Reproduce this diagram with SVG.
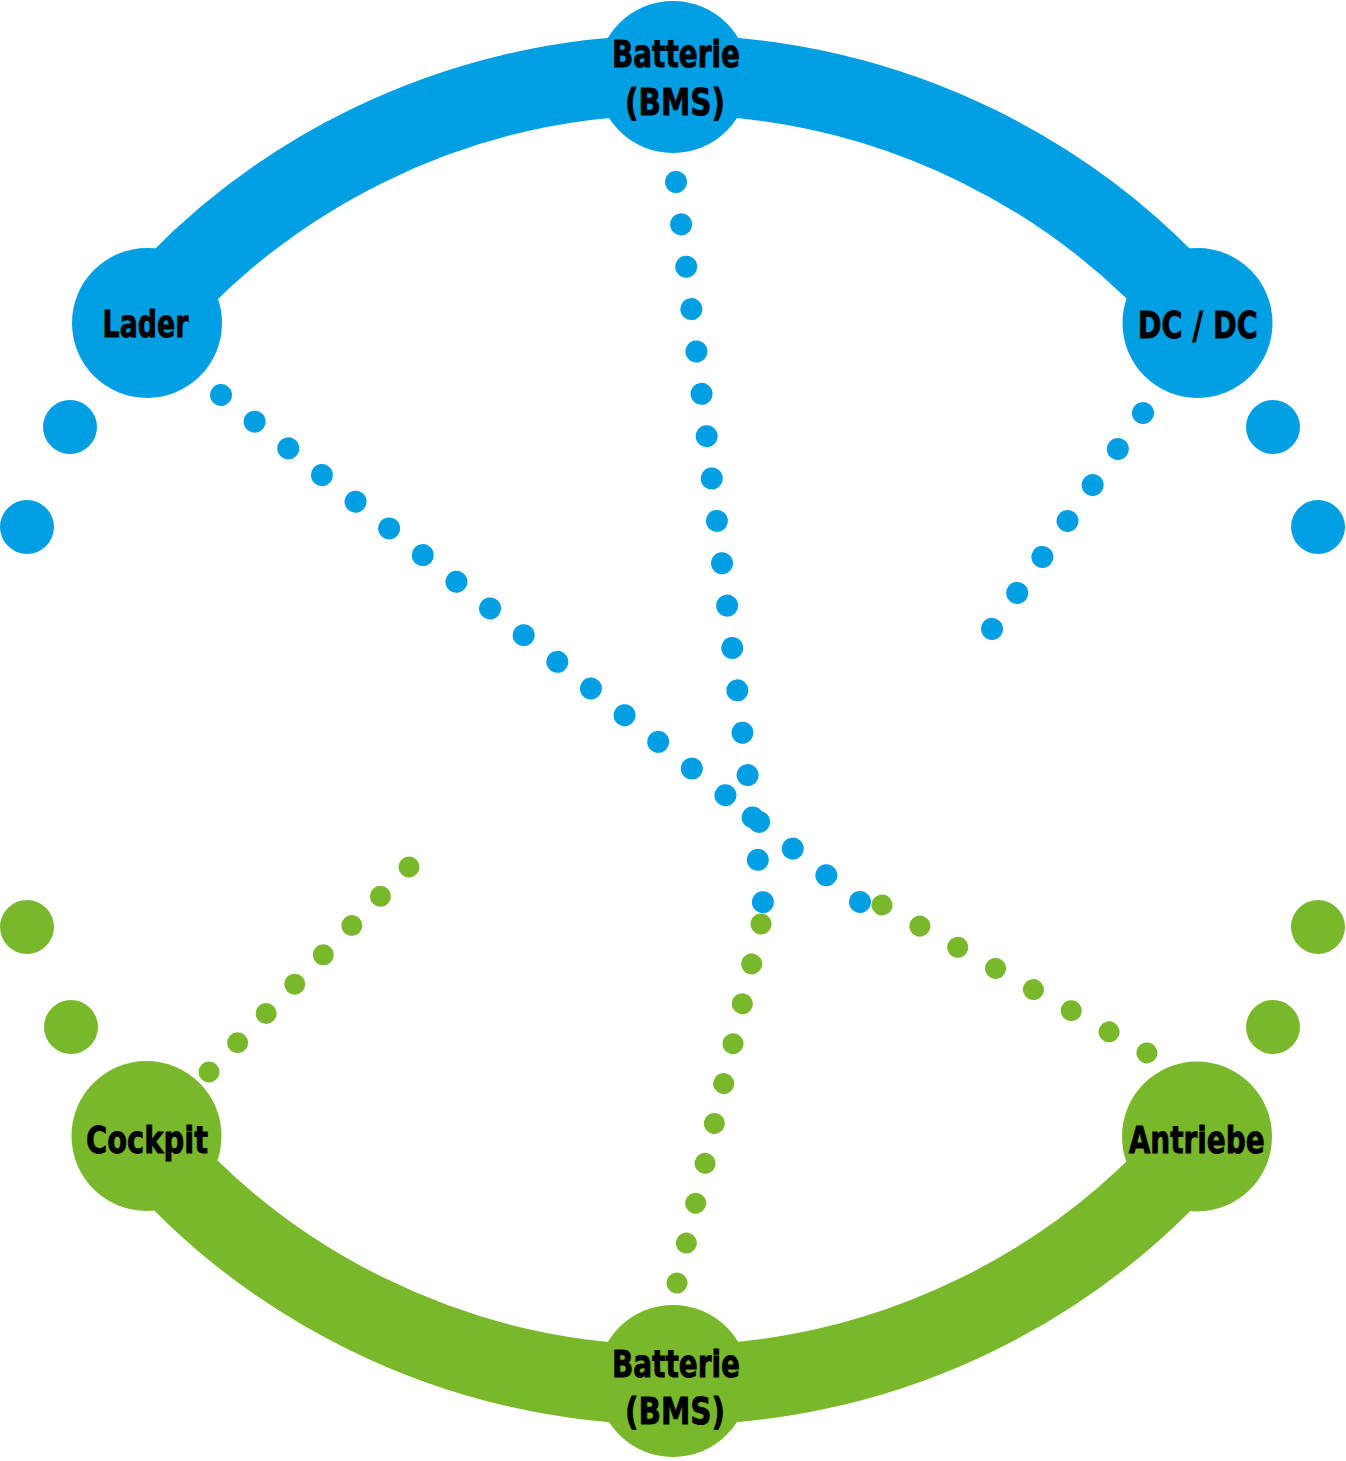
<svg xmlns="http://www.w3.org/2000/svg" width="1346" height="1461" viewBox="0 0 1346 1461">
  <style>
    .blue { fill: #009FE3; }
    .green { fill: #78B82A; }
    .arc-blue { fill: none; stroke: #009FE3; stroke-width: 80; stroke-linecap: butt; }
    .arc-green { fill: none; stroke: #78B82A; stroke-width: 80; stroke-linecap: butt; }
    .dots-blue { fill: none; stroke: #009FE3; stroke-width: 22; stroke-linecap: round; }
    .dots-green { fill: none; stroke: #78B82A; stroke-width: 21; stroke-linecap: round; }
    .label { font-family: "Liberation Sans Narrow", "DejaVu Sans Condensed", "Liberation Sans", sans-serif; font-weight: bold; font-size: 38px; fill: #000; stroke: #000; stroke-width: 0.8; text-anchor: middle; }
  </style>
  <rect width="1346" height="1461" fill="#FFFFFF"/>

  <g id="connectors">
    <path id="arc-top" class="arc-blue" d="M 143.4 320.4 A 693 693 0 0 1 1201.6 320.4"/>
    <path id="arc-bottom" class="arc-green" d="M 143.4 1139.6 A 693 693 0 0 0 1201.6 1139.6"/>
    <line id="dots-bms-bms" class="dots-blue" x1="676" y1="182" x2="763" y2="903" stroke-dasharray="0.01 42.66"/>
    <line id="dots-lader-antriebe" class="dots-blue" x1="221" y1="395" x2="860" y2="902" stroke-dasharray="0.01 42.92"/>
    <line id="dots-dcdc" class="dots-blue" x1="1143" y1="413" x2="992" y2="629" stroke-dasharray="0.01 43.9"/>
    <line id="dots-cockpit" class="dots-green" x1="409" y1="867" x2="209" y2="1072" stroke-dasharray="0.01 40.9"/>
    <line id="dots-bms-bottom" class="dots-green" x1="761" y1="924" x2="677" y2="1283" stroke-dasharray="0.01 40.95"/>
    <line id="dots-antriebe" class="dots-green" x1="882" y1="905" x2="1147" y2="1053" stroke-dasharray="0.01 43.34"/>
  </g>

  <g id="decoration">
    <circle class="blue" cx="70" cy="427" r="27"/>
    <circle class="blue" cx="27" cy="527" r="27"/>
    <circle class="blue" cx="1273" cy="427" r="27"/>
    <circle class="blue" cx="1318" cy="527" r="27"/>
    <circle class="green" cx="27" cy="927" r="27"/>
    <circle class="green" cx="71" cy="1027" r="27"/>
    <circle class="green" cx="1318" cy="927" r="27"/>
    <circle class="green" cx="1273" cy="1027" r="27"/>
  </g>

  <g id="node-batterie-top">
    <circle class="blue" cx="673" cy="77" r="76"/>
    <text class="label" x="676" y="67" textLength="128" lengthAdjust="spacingAndGlyphs">Batterie</text>
    <text class="label" x="675" y="115" textLength="100" lengthAdjust="spacingAndGlyphs">(BMS)</text>
  </g>
  <g id="node-lader">
    <circle class="blue" cx="147" cy="323" r="75"/>
    <text class="label" x="145.5" y="337" textLength="86" lengthAdjust="spacingAndGlyphs">Lader</text>
  </g>
  <g id="node-dcdc">
    <circle class="blue" cx="1197.5" cy="323" r="75"/>
    <text class="label" x="1197.7" y="338" textLength="120" lengthAdjust="spacingAndGlyphs">DC / DC</text>
  </g>
  <g id="node-cockpit">
    <circle class="green" cx="146.5" cy="1136" r="75"/>
    <text class="label" x="147" y="1153" textLength="122" lengthAdjust="spacingAndGlyphs">Cockpit</text>
  </g>
  <g id="node-antriebe">
    <circle class="green" cx="1197" cy="1136.5" r="75"/>
    <text class="label" x="1196.7" y="1153" textLength="136" lengthAdjust="spacingAndGlyphs">Antriebe</text>
  </g>
  <g id="node-batterie-bottom">
    <circle class="green" cx="673" cy="1381" r="76"/>
    <text class="label" x="676" y="1377" textLength="128" lengthAdjust="spacingAndGlyphs">Batterie</text>
    <text class="label" x="675" y="1424" textLength="100" lengthAdjust="spacingAndGlyphs">(BMS)</text>
  </g>
</svg>
